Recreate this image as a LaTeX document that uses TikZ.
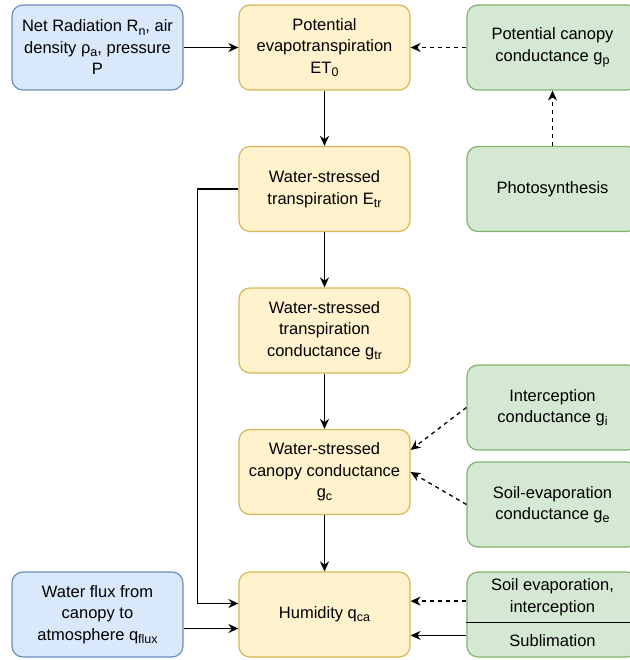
\documentclass[tikz,border=0pt]{standalone}
\usepackage{fontspec}
\setmainfont{Liberation Sans}
\usetikzlibrary{arrows.meta}

\definecolor{inputFill}{HTML}{DAE8FC}
\definecolor{inputLine}{HTML}{6C8EBF}
\definecolor{mainFill}{HTML}{FFF2CC}
\definecolor{mainLine}{HTML}{D6B656}
\definecolor{factorFill}{HTML}{D5E8D4}
\definecolor{factorLine}{HTML}{82B366}

\newcommand{\lowsub}[1]{\raisebox{-0.35ex}{\fontsize{12.5}{12.5}\selectfont #1}}

\tikzset{
  every box/.style={
    rectangle,
    rounded corners=11pt,
    draw,
    line width=1.2pt,
    minimum width=171pt,
    minimum height=85pt,
    align=center,
    inner sep=2pt,
    font=\fontsize{16.5}{21.5}\selectfont
  },
  box input/.style={fill=inputFill, draw=inputLine},
  box main/.style={fill=mainFill, draw=mainLine},
  box factor/.style={fill=factorFill, draw=factorLine},
  box part/.style={
    rectangle,
    draw=none,
    minimum width=171pt,
    align=center,
    inner sep=2pt,
    font=\fontsize{16.5}{21.5}\selectfont
  },
  link/.style={->, line width=1.3pt},
  weak link/.style={->, line width=1.3pt, dash pattern=on 4pt off 4pt},
}

\begin{document}
\begin{tikzpicture}[x=1pt, y=-1pt, >={Stealth[length=10pt, width=9pt]}]
  \useasboundingbox (0,0) rectangle (629,660);

  % left column
  \node [every box, box input] (net) at (97.5,47.5)
    {Net Radiation R\lowsub{n}, air\\density ρ\lowsub{a}, pressure\\P};
  \node [every box, box input] (qflux) at (97.5,614.5)
    {Water flux from\\canopy to\\atmosphere q\lowsub{flux}};

  % middle column
  \node [every box, box main] (et0) at (324.5,47.5)
    {Potential\\evapotranspiration\\ET\lowsub{0}};
  \node [every box, box main] (etr) at (324.5,189)
    {Water-stressed\\transpiration E\lowsub{tr}};
  \node [every box, box main] (gtr) at (324.5,330.5)
    {Water-stressed\\transpiration\\conductance g\lowsub{tr}};
  \node [every box, box main] (gc) at (324.5,472)
    {Water-stressed\\canopy conductance\\g\lowsub{c}};
  \node [every box, box main] (qca) at (324.5,614.5)
    {Humidity q\lowsub{ca}};

  % right column
  \node [every box, box factor] (gp) at (552.5,47.5)
    {Potential canopy\\conductance g\lowsub{p}};
  \node [every box, box factor] (photo) at (552.5,189)
    {Photosynthesis};
  \node [every box, box factor] (gi) at (552.5,407.5)
    {Interception\\conductance g\lowsub{i}};
  \node [every box, box factor] (ge) at (552.5,504.5)
    {Soil-evaporation\\conductance g\lowsub{e}};
  \node [every box, box factor] (sink) at (552.5,614.5) {};
  \node [box part, anchor=north, minimum height=51pt] (sevap) at (sink.north)
    {Soil evaporation,\\interception};
  \node [box part, anchor=south, minimum height=34pt] (subl) at (sink.south)
    {Sublimation};
  \draw [line width=1.2pt] (sevap.south -| sink.west) -- (sevap.south -| sink.east);

  % main chain
  \foreach \a/\b in {et0/etr, etr/gtr, gtr/gc, gc/qca}
    \draw [link] (\a) -- (\b);

  \draw [link] (net) -- (et0);
  \draw [link] (etr.west) -- ++(-41,0) |- ([yshift=11pt]qca.west);
  \draw [link] ([yshift=-14pt]qflux.east) -- ([yshift=-14pt]qca.west);

  % controlling factors
  \draw [weak link] (gp) -- (et0);
  \draw [weak link] (photo) -- (gp);
  \draw [weak link] (gi.west) -- ([yshift=22pt]gc.east);
  \draw [weak link] (ge.west) -- (gc.east);
  \draw [weak link] ([yshift=-4pt]sevap.west -| sink.west) -- ([yshift=-4pt]sevap.west -| qca.east);
  \draw [link] ([yshift=5pt]subl.west -| sink.west) -- ([yshift=5pt]subl.west -| qca.east);

\end{tikzpicture}
\end{document}
